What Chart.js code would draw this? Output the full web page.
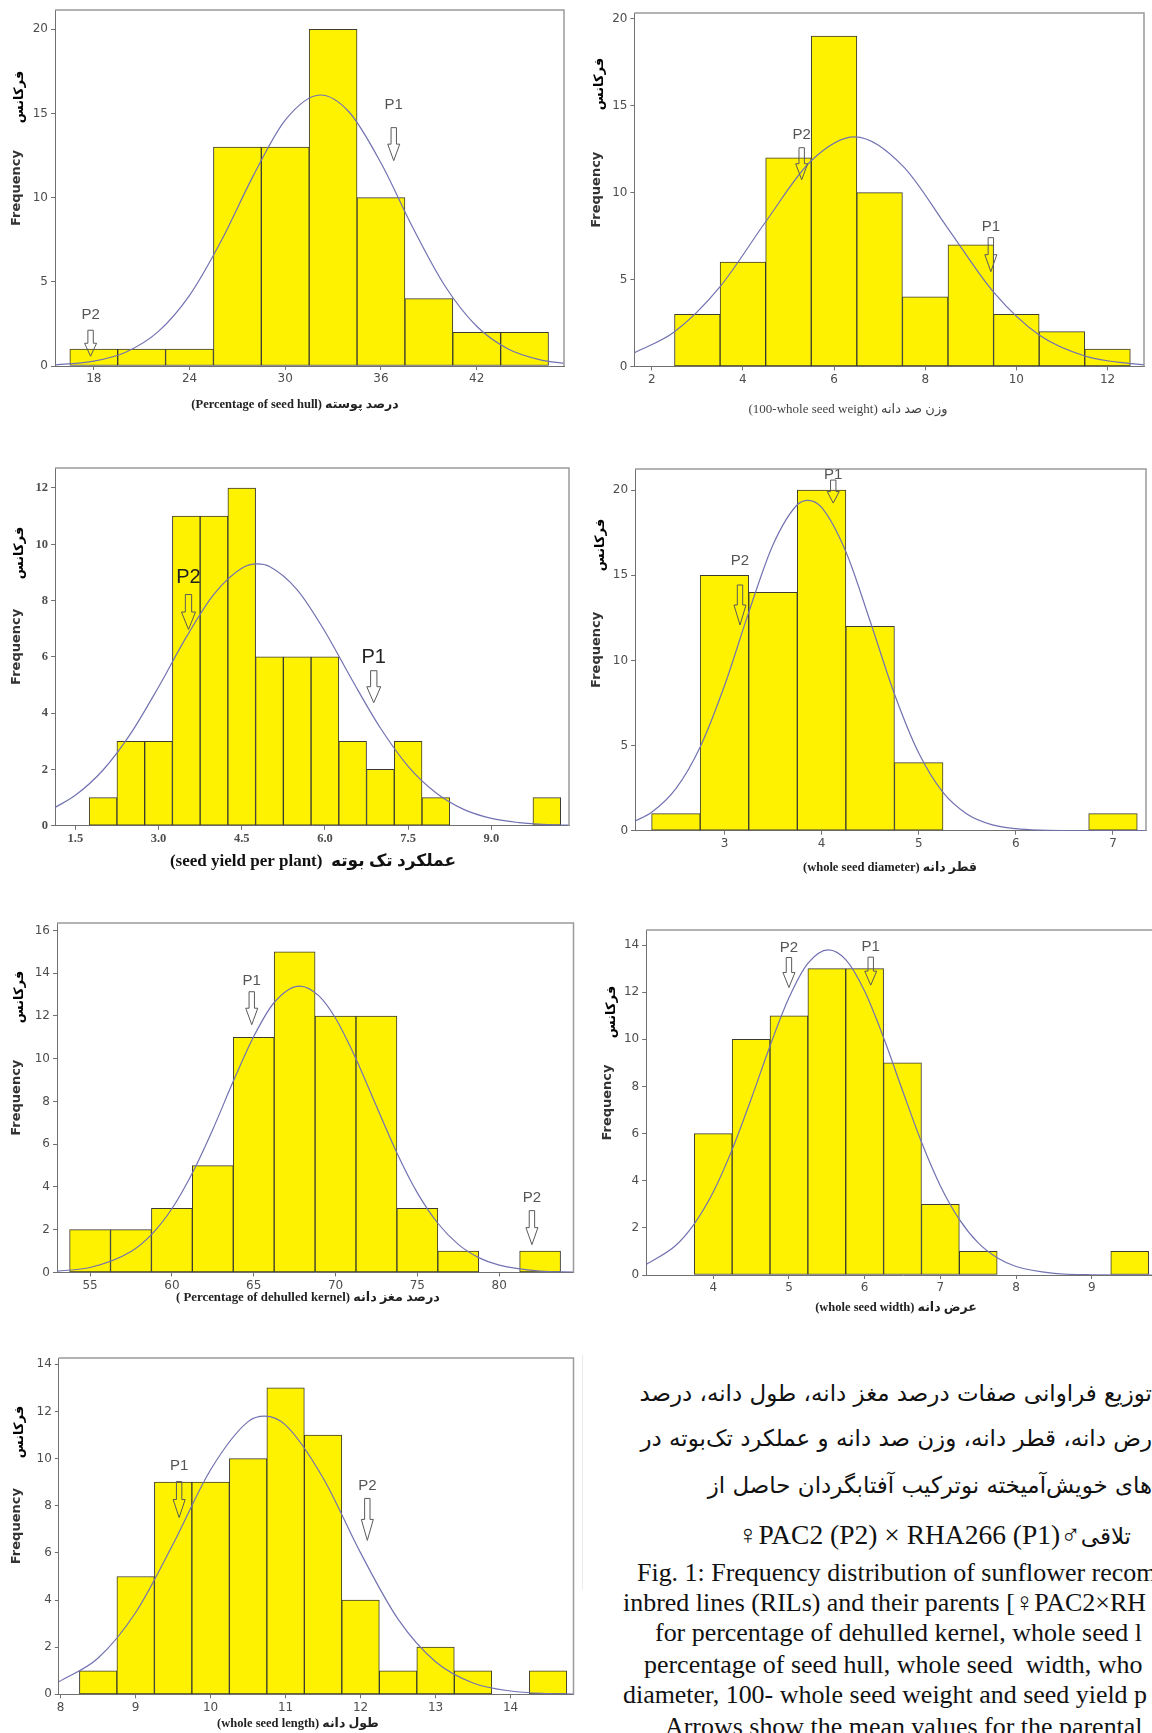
<!DOCTYPE html>
<html>
<head>
<meta charset="utf-8">
<title>Frequency distribution of sunflower RILs</title>
<script src="https://cdn.jsdelivr.net/npm/chart.js@4.4.1/dist/chart.umd.min.js"></script>
<style>
  html, body { margin: 0; padding: 0; background: #fff; }
  body { position: relative; width: 1152px; height: 1733px; overflow: hidden; }
  canvas { position: absolute; }
  .fa { position: absolute; right: 0; white-space: nowrap; direction: rtl; font-family: 'DejaVu Sans', sans-serif; color: #111; line-height: 30px; font-size: 20px; }
  .en { position: absolute; white-space: nowrap; font-family: 'Liberation Serif', 'Times New Roman', serif; color: #111; line-height: 28px; font-size: 24px; }
  .lat { font-family: 'Liberation Serif', 'DejaVu Sans', serif; }
  .rule { position: absolute; left: 582px; top: 1355px; width: 1px; height: 235px; background: #ececec; }
</style>
</head>
<body>
<div class="rule"></div>
<div class="fa" id="fa1" style="top:1378px">توزیع فراوانی صفات درصد مغز دانه، طول دانه، درصد</div>
<div class="fa" style="top:1423px">رض دانه، قطر دانه، وزن صد دانه و عملکرد تک‌بوته در</div>
<div class="fa" style="top:1470px">های خویش‌آمیخته نوترکیب آفتابگردان حاصل از</div>
<div class="fa" style="top:1520px;right:21px">تلاقی<span class="lat" dir="ltr">♀PAC2 (P2) × RHA266 (P1)♂</span></div>

<div class="en" id="en1" style="left:637px;top:1559px">Fig. 1: Frequency distribution of sunflower recom</div>
<div class="en" style="left:623px;top:1589px">inbred lines (RILs) and their parents [♀PAC2×RH</div>
<div class="en" style="left:655px;top:1619px">for percentage of dehulled kernel, whole seed l</div>
<div class="en" style="left:644px;top:1651px">percentage of seed hull, whole seed&nbsp; width, who</div>
<div class="en" style="left:623px;top:1681px">diameter, 100- whole seed weight and seed yield p</div>
<div class="en" style="left:665px;top:1713px">Arrows show the mean values for the parental</div>

<script>
// ---- percentage of seed hull
const hullBinMid = [18, 21, 24, 27, 30, 33, 36, 39, 42, 45];
const hullCount = [1, 1, 1, 13, 13, 20, 10, 4, 2, 2];
const hullFitX = [15.6, 18, 20, 22, 24, 26, 28, 30, 32.2, 34, 36, 38, 40, 42, 44, 46, 47.5];
const hullFitY = [0.07, 0.29, 0.82, 2.01, 4.2, 7.46, 11.31, 14.61, 16.1, 15.09, 12.06, 8.21, 4.77, 2.36, 0.99, 0.36, 0.15];
const hullXTicks = [18, 24, 30, 36, 42];
const hullYTicks = [0, 5, 10, 15, 20];
const hullParentName = ['P2', 'P1'];
const hullParentX = [17.8, 36.8];
const hullParentTip = [0.58, 12.2];
const hullTitle = '(Percentage of seed hull) درصد پوسته';

// ---- 100-whole seed weight
const weightBinMid = [3, 4, 5, 6, 7, 8, 9, 10, 11, 12];
const weightCount = [3, 6, 12, 19, 10, 4, 7, 3, 2, 1];
const weightFitX = [1.62, 2.5, 3.5, 4.5, 5.5, 6.45, 7.5, 8.5, 9.5, 10.5, 11.5, 12.5, 12.8];
const weightFitY = [0.78, 1.99, 4.59, 8.32, 11.83, 13.2, 11.55, 7.93, 4.27, 1.8, 0.6, 0.16, 0.1];
const weightXTicks = [2, 4, 6, 8, 10, 12];
const weightYTicks = [0, 5, 10, 15, 20];
const weightParentName = ['P2', 'P1'];
const weightParentX = [5.29, 9.44];
const weightParentTip = [10.74, 5.45];
const weightTitle = '(100-whole seed weight) وزن صد دانه';

// ---- seed yield per plant
const yieldBinMid = [2, 2.5, 3, 3.5, 4, 4.5, 5, 5.5, 6, 6.5, 7, 7.5, 8, 8.5, 9, 9.5, 10];
const yieldCount = [1, 3, 3, 11, 11, 12, 6, 6, 6, 3, 2, 3, 1, 0, 0, 0, 1];
const yieldFitX = [1.135, 1.5, 2, 2.5, 3, 3.5, 4, 4.5, 4.78, 5, 5.5, 6, 6.5, 7, 7.5, 8, 8.5, 9, 9.5, 10, 10.4];
const yieldFitY = [0.65, 1.08, 1.98, 3.28, 4.93, 6.7, 8.23, 9.15, 9.3, 9.21, 8.38, 6.9, 5.14, 3.47, 2.11, 1.17, 0.58, 0.26, 0.11, 0.04, 0.02];
const yieldXTicks = [1.5, 3, 4.5, 6, 7.5, 9];
const yieldXLabels = ['1.5', '3.0', '4.5', '6.0', '7.5', '9.0'];
const yieldYTicks = [0, 2, 4, 6, 8, 10, 12];
const yieldParentName = ['P2', 'P1'];
const yieldParentX = [3.54, 6.88];
const yieldParentTip = [6.97, 4.37];
const yieldTitle = '(seed yield per plant)  عملکرد تک بوته';

// ---- whole seed diameter
const diamBinMid = [2.5, 3, 3.5, 4, 4.5, 5, 5.5, 6, 6.5, 7];
const diamCount = [1, 15, 14, 20, 12, 4, 0, 0, 0, 1];
const diamFitX = [2.08, 2.25, 2.5, 2.75, 3, 3.25, 3.5, 3.75, 3.86, 4, 4.25, 4.5, 4.75, 5, 5.25, 5.5, 5.75, 6, 6.25, 6.5, 7.34];
const diamFitY = [0.57, 1.08, 2.47, 4.92, 8.51, 12.82, 16.79, 19.14, 19.4, 18.98, 16.38, 12.3, 8.03, 4.56, 2.25, 0.97, 0.36, 0.12, 0.03, 0.01, 0];
const diamXTicks = [3, 4, 5, 6, 7];
const diamYTicks = [0, 5, 10, 15, 20];
const diamParentName = ['P1', 'P2'];
const diamParentX = [4.12, 3.16];
const diamParentTip = [19.24, 12.08];
const diamTitle = '(whole seed diameter) قطر دانه';

// ---- percentage of dehulled kernel
const kernelBinMid = [55, 57.5, 60, 62.5, 65, 67.5, 70, 72.5, 75, 77.5, 80, 82.5];
const kernelCount = [2, 2, 3, 5, 11, 15, 12, 12, 3, 1, 0, 1];
const kernelFitX = [52.98, 55, 57.5, 58.75, 60, 61.25, 62.5, 63.75, 65, 66.25, 67.8, 69, 70, 71.25, 72.5, 73.75, 75, 76.25, 77.5, 78.75, 80, 82.5, 84.54];
const kernelFitY = [0.06, 0.23, 0.98, 1.77, 2.98, 4.65, 6.69, 8.94, 11.04, 12.63, 13.4, 12.93, 11.89, 9.99, 7.77, 5.59, 3.72, 2.3, 1.31, 0.69, 0.34, 0.06, 0.01];
const kernelXTicks = [55, 60, 65, 70, 75, 80];
const kernelYTicks = [0, 2, 4, 6, 8, 10, 12, 14, 16];
const kernelParentName = ['P1', 'P2'];
const kernelParentX = [64.88, 82.0];
const kernelParentTip = [11.59, 1.3];
const kernelTitle = '( Percentage of dehulled kernel) درصد مغز دانه';

// ---- whole seed width
const widthBinMid = [4, 4.5, 5, 5.5, 6, 6.5, 7, 7.5, 8, 8.5, 9, 9.5];
const widthCount = [6, 10, 11, 13, 13, 9, 3, 1, 0, 0, 0, 1];
const widthFitX = [3.115, 3.5, 3.75, 4, 4.25, 4.5, 4.75, 5, 5.25, 5.52, 5.75, 6, 6.25, 6.5, 6.75, 7, 7.25, 7.5, 7.75, 8, 8.5, 9, 9.9];
const widthFitY = [0.45, 1.24, 2.17, 3.52, 5.32, 7.46, 9.72, 11.76, 13.22, 13.8, 13.38, 12.04, 10.07, 7.83, 5.64, 3.78, 2.36, 1.36, 0.73, 0.36, 0.07, 0.01, 0];
const widthXTicks = [4, 5, 6, 7, 8, 9];
const widthYTicks = [0, 2, 4, 6, 8, 10, 12, 14];
const widthParentName = ['P2', 'P1'];
const widthParentX = [5.0, 6.08];
const widthParentTip = [12.2, 12.3];
const widthTitle = '(whole seed width) عرض دانه';

// ---- whole seed length
const lengthBinMid = [8.5, 9, 9.5, 10, 10.5, 11, 11.5, 12, 12.5, 13, 13.5, 14, 14.5];
const lengthCount = [1, 5, 9, 9, 10, 13, 11, 4, 1, 2, 1, 0, 1];
const lengthFitX = [7.975, 8.5, 9, 9.5, 10, 10.5, 10.72, 11, 11.5, 12, 12.5, 13, 13.5, 14, 14.5, 14.84];
const lengthFitY = [0.53, 1.54, 3.47, 6.38, 9.53, 11.57, 11.8, 11.42, 9.18, 6.0, 3.19, 1.38, 0.48, 0.14, 0.03, 0.01];
const lengthXTicks = [8, 9, 10, 11, 12, 13, 14];
const lengthYTicks = [0, 2, 4, 6, 8, 10, 12, 14];
const lengthParentName = ['P1', 'P2'];
const lengthParentX = [9.58, 12.09];
const lengthParentTip = [7.5, 6.53];
const lengthTitle = '(whole seed length) طول دانه';

// colours / fonts
const BAR_FILL = '#fff200';
const BAR_EDGE = '#3b3b30';
const CURVE = '#7272b2';
const AXIS = '#707070';
const FRAME = '#9a9a9a';
const TICK = '#4d4d4d';
const SERIF = "'Liberation Serif', 'DejaVu Sans', serif";
const SANS = "'DejaVu Sans', sans-serif";

// page layout of each plot box (left, top, right, bottom), axis ranges, title spot
const base = { titleSize: 12.5, titleWeight: 'bold', titleColor: '#222', labelFont: '15px "Liberation Sans", sans-serif', labelColor: '#555', head: 12, tickFont: { family: SANS, size: 12 } };
const layoutHull = { ...base, plot: [55, 10, 564, 366], xRange: [15.57, 47.47], yMax: 21.15, freqX: 16.5, fa: [20, 97], title: [295, 405], arrowLen: [26, 33], labelGap: [15, 23] };
const layoutWeight = { ...base, plot: [634.4, 13.3, 1144, 366.7], xRange: [1.62, 12.8], yMax: 20.33, freqX: 596.5, fa: [600, 84], title: [848, 410], titleSize: 13, titleWeight: 'normal', titleColor: '#444', arrowLen: [32, 34], labelGap: [13, 11] };
const layoutYield = { ...base, plot: [55.1, 468.3, 569, 826], xRange: [1.135, 10.4], yMax: 12.71, freqX: 16.5, fa: [20, 553], title: [313, 862], titleSize: 17, titleColor: '#111', arrowLen: [35, 32], labelGap: [17, 13], labelFont: '20px "Liberation Sans", sans-serif', labelColor: '#222', head: 14, tickFont: { family: SERIF, size: 12.5, weight: 'bold' } };
const layoutDiam = { ...base, plot: [635.1, 469, 1146, 830.7], xRange: [2.08, 7.34], yMax: 21.24, freqX: 596.5, fa: [601, 545], title: [890, 868], arrowLen: [23, 40], labelGap: [5, 24] };
const layoutKernel = { ...base, plot: [57, 923.3, 573.5, 1272.7], xRange: [52.98, 84.54], yMax: 16.35, freqX: 16.5, fa: [20, 997], title: [308, 1298], titleSize: 12.8, arrowLen: [33, 34], labelGap: [11, 13] };
const layoutWidth = { ...base, plot: [646.2, 930, 1160, 1275], xRange: [3.115, 9.9], yMax: 14.64, freqX: 607.6, fa: [612, 1012], title: [896, 1308], arrowLen: [30, 28], labelGap: [10, 10] };
const layoutLength = { ...base, plot: [58.8, 1357.7, 573.5, 1694], xRange: [7.975, 14.84], yMax: 14.27, freqX: 16.5, fa: [20, 1432], title: [298, 1724], arrowLen: [36, 42], labelGap: [16, 13] };

function drawArrow(ctx, cx, tipY, len, headW) {
  const shaftW = headW * 0.45;
  const top = tipY - len;
  const neck = tipY - len * 0.5;
  ctx.beginPath();
  ctx.moveTo(cx - shaftW / 2, top);
  ctx.lineTo(cx + shaftW / 2, top);
  ctx.lineTo(cx + shaftW / 2, neck);
  ctx.lineTo(cx + headW / 2, neck);
  ctx.lineTo(cx, tipY);
  ctx.lineTo(cx - headW / 2, neck);
  ctx.lineTo(cx - shaftW / 2, neck);
  ctx.closePath();
  ctx.stroke();
}

// frame, parent arrows, x title and the Persian y label
const extras = {
  id: 'extras',
  afterDatasetsDraw(chart, args, o) {
    const { ctx, chartArea: a } = chart;
    const xs = chart.scales.x, ys = chart.scales.y;
    ctx.save();
    ctx.strokeStyle = FRAME;
    ctx.lineWidth = 1.5;
    ctx.beginPath();
    ctx.moveTo(a.left, a.top);
    ctx.lineTo(a.right, a.top);
    ctx.lineTo(a.right, a.bottom);
    ctx.stroke();

    ctx.strokeStyle = '#5a5a5a';
    ctx.lineWidth = 1;
    ctx.fillStyle = o.labelColor;
    ctx.font = o.labelFont;
    ctx.textAlign = 'center';
    ctx.textBaseline = 'middle';
    o.names.forEach((name, i) => {
      const px = xs.getPixelForValue(o.xs[i]);
      const tip = ys.getPixelForValue(o.tips[i]);
      drawArrow(ctx, px, tip, o.len[i], o.head);
      ctx.fillText(name, px, tip - o.len[i] - o.gap[i]);
    });

    ctx.fillStyle = o.titleColor;
    ctx.font = o.titleWeight + ' ' + o.titleSize + 'px ' + SERIF;
    ctx.fillText(o.title, o.titleX, o.titleY);

    ctx.translate(o.faX, o.faY);
    ctx.rotate(-Math.PI / 2);
    ctx.fillStyle = '#000';
    ctx.font = 'bold 13px ' + SANS;
    ctx.fillText('فرکانس', 0, 0);
    ctx.restore();
  }
};

function buildPanel(p) {
  const L = p.layout;
  const [pl, pt, pr, pb] = L.plot;
  const padTop = 26;
  const left = Math.round(L.freqX - 13 * 0.6 - 2);
  const top = Math.round(pt - padTop);
  const yW = pl - left;
  const h = Math.round(padTop + (pb - pt) + (L.title[1] - pb + L.titleSize * 0.6 + 3));
  const xH = h - padTop - (pb - pt);
  const w = Math.round(yW + (pr - pl) + 12);
  const padRight = w - yW - (pr - pl);

  const canvas = document.createElement('canvas');
  canvas.width = w;
  canvas.height = h;
  canvas.style.left = left + 'px';
  canvas.style.top = top + 'px';
  document.body.appendChild(canvas);

  const grid = { display: true, drawOnChartArea: false, drawTicks: true, tickLength: 4, color: AXIS, offset: false };
  const border = { display: true, color: AXIS, width: 1 };

  new Chart(canvas, {
    type: 'bar',
    data: {
      datasets: [
        {
          type: 'line',
          data: p.fitX.map((x, i) => ({ x: x, y: p.fitY[i] })),
          borderColor: CURVE,
          borderWidth: 1.2,
          pointRadius: 0,
          fill: false,
          cubicInterpolationMode: 'monotone',
          order: 1
        },
        {
          type: 'bar',
          data: p.mids.map((x, i) => ({ x: x, y: p.counts[i] })),
          backgroundColor: BAR_FILL,
          borderColor: BAR_EDGE,
          borderWidth: 1,
          borderSkipped: false,
          barPercentage: 1,
          categoryPercentage: 1,
          order: 2
        }
      ]
    },
    options: {
      responsive: false,
      animation: false,
      devicePixelRatio: 1,
      layout: { padding: { top: padTop, right: padRight, left: 0, bottom: 0 } },
      plugins: {
        legend: { display: false },
        tooltip: { enabled: false },
        extras: {
          names: p.names, xs: p.px, tips: p.tips,
          len: L.arrowLen, gap: L.labelGap, head: L.head,
          labelFont: L.labelFont, labelColor: L.labelColor,
          title: p.title, titleX: L.title[0] - left, titleY: L.title[1] - top,
          titleSize: L.titleSize, titleWeight: L.titleWeight, titleColor: L.titleColor,
          faX: L.fa[0] - left, faY: L.fa[1] - top
        }
      },
      scales: {
        x: {
          type: 'linear',
          min: L.xRange[0],
          max: L.xRange[1],
          offset: false,
          afterBuildTicks: s => { s.ticks = p.xTicks.map(v => ({ value: v })); },
          afterFit: s => { s.height = xH; },
          grid: grid,
          border: border,
          ticks: {
            autoSkip: false, maxRotation: 0, padding: 2, color: TICK, font: L.tickFont,
            callback: (v, i) => (p.xLabels ? p.xLabels[i] : String(p.xTicks[i]))
          },
          title: { display: false }
        },
        y: {
          min: 0,
          max: L.yMax,
          afterBuildTicks: s => { s.ticks = p.yTicks.map(v => ({ value: v })); },
          afterFit: s => { s.width = yW; },
          grid: grid,
          border: border,
          ticks: { autoSkip: false, padding: 3, color: TICK, font: L.tickFont, callback: (v, i) => String(p.yTicks[i]) },
          title: {
            display: true, text: 'Frequency', color: '#333',
            font: { family: SANS, size: 13, weight: 'bold' },
            padding: { top: 2, bottom: 0 }
          }
        }
      }
    },
    plugins: [extras]
  });
}

const panels = [
  { layout: layoutHull, mids: hullBinMid, counts: hullCount, fitX: hullFitX, fitY: hullFitY, xTicks: hullXTicks, yTicks: hullYTicks, title: hullTitle, names: hullParentName, px: hullParentX, tips: hullParentTip },
  { layout: layoutWeight, mids: weightBinMid, counts: weightCount, fitX: weightFitX, fitY: weightFitY, xTicks: weightXTicks, yTicks: weightYTicks, title: weightTitle, names: weightParentName, px: weightParentX, tips: weightParentTip },
  { layout: layoutYield, mids: yieldBinMid, counts: yieldCount, fitX: yieldFitX, fitY: yieldFitY, xTicks: yieldXTicks, xLabels: yieldXLabels, yTicks: yieldYTicks, title: yieldTitle, names: yieldParentName, px: yieldParentX, tips: yieldParentTip },
  { layout: layoutDiam, mids: diamBinMid, counts: diamCount, fitX: diamFitX, fitY: diamFitY, xTicks: diamXTicks, yTicks: diamYTicks, title: diamTitle, names: diamParentName, px: diamParentX, tips: diamParentTip },
  { layout: layoutKernel, mids: kernelBinMid, counts: kernelCount, fitX: kernelFitX, fitY: kernelFitY, xTicks: kernelXTicks, yTicks: kernelYTicks, title: kernelTitle, names: kernelParentName, px: kernelParentX, tips: kernelParentTip },
  { layout: layoutWidth, mids: widthBinMid, counts: widthCount, fitX: widthFitX, fitY: widthFitY, xTicks: widthXTicks, yTicks: widthYTicks, title: widthTitle, names: widthParentName, px: widthParentX, tips: widthParentTip },
  { layout: layoutLength, mids: lengthBinMid, counts: lengthCount, fitX: lengthFitX, fitY: lengthFitY, xTicks: lengthXTicks, yTicks: lengthYTicks, title: lengthTitle, names: lengthParentName, px: lengthParentX, tips: lengthParentTip }
];

panels.forEach(buildPanel);

// size the caption text so its lines span the same width as in the figure
function fitLines(cls, refId, target) {
  const ref = document.getElementById(refId);
  const size = parseFloat(getComputedStyle(ref).fontSize);
  const next = size * target / ref.offsetWidth;
  document.querySelectorAll('.' + cls).forEach(el => { el.style.fontSize = next + 'px'; });
  return next;
}
fitLines('fa', 'fa1', 513);
const enSize = fitLines('en', 'en1', 520);
document.querySelectorAll('.fa .lat').forEach(el => { el.style.fontSize = (enSize * 1.06) + 'px'; });
</script>
</body>
</html>
